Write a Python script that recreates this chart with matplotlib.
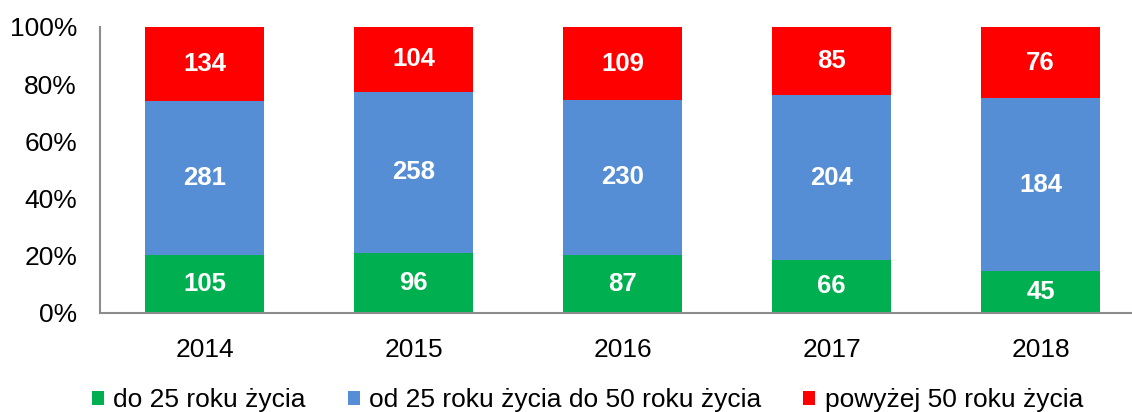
import matplotlib
matplotlib.use("Agg")
import matplotlib.pyplot as plt
import numpy as np

plt.rcParams['font.family'] = ['Liberation Sans', 'DejaVu Sans']

years = ["2014", "2015", "2016", "2017", "2018"]
under25 = [105, 96, 87, 66, 45]
from25to50 = [281, 258, 230, 204, 184]
over50 = [134, 104, 109, 85, 76]
series_names = ["do 25 roku życia", "od 25 roku życia do 50 roku życia", "powyżej 50 roku życia"]
colors = ["#00B050", "#558ED5", "#FF0000"]

W, H = 1132, 412
fig = plt.figure(figsize=(W/100, H/100), dpi=100)
ax = fig.add_axes([100/W, (412-313)/H, (1132-100)/W, (313-27)/H])

data = np.array([under25, from25to50, over50], dtype=float)
totals = data.sum(axis=0)
pct = data / totals * 100
x = np.arange(len(years))
bottom = np.zeros(len(years))
for i in range(3):
    bars = ax.bar(x, pct[i], 0.57, bottom=bottom, color=colors[i], label=series_names[i], linewidth=0)
    for j, b in enumerate(bars):
        ax.text(b.get_x() + b.get_width()/2, bottom[j] + pct[i][j]/2, f"{int(data[i][j])}",
                ha='center', va='center', color='white', fontsize=18.5, fontweight='bold')
    bottom += pct[i]

ax.set_ylim(0, 100)
ax.set_xlim(-0.5, 4.5 - 13/209)
ax.set_yticks([0, 20, 40, 60, 80, 100])
ax.set_yticklabels([f"{v}%" for v in [0, 20, 40, 60, 80, 100]])
ax.set_xticks(x)
ax.set_xticklabels(years)
ax.tick_params(axis='both', length=0, labelsize=19, colors='black')
ax.tick_params(axis='y', pad=16.5)
ax.tick_params(axis='x', pad=18)
for s in ['top', 'right']:
    ax.spines[s].set_visible(False)
for s in ['left', 'bottom']:
    ax.spines[s].set_color('#8c8c8c')
    ax.spines[s].set_linewidth(1.5)

fig.legend(loc='center', bbox_to_anchor=(587.5/W, 1 - 400/H), ncol=3, frameon=False,
           fontsize=19, handlelength=0.45, handleheight=0.45, handletextpad=0.35,
           columnspacing=1.6, borderpad=0, borderaxespad=0)

fig.savefig("out.png", dpi=100)
